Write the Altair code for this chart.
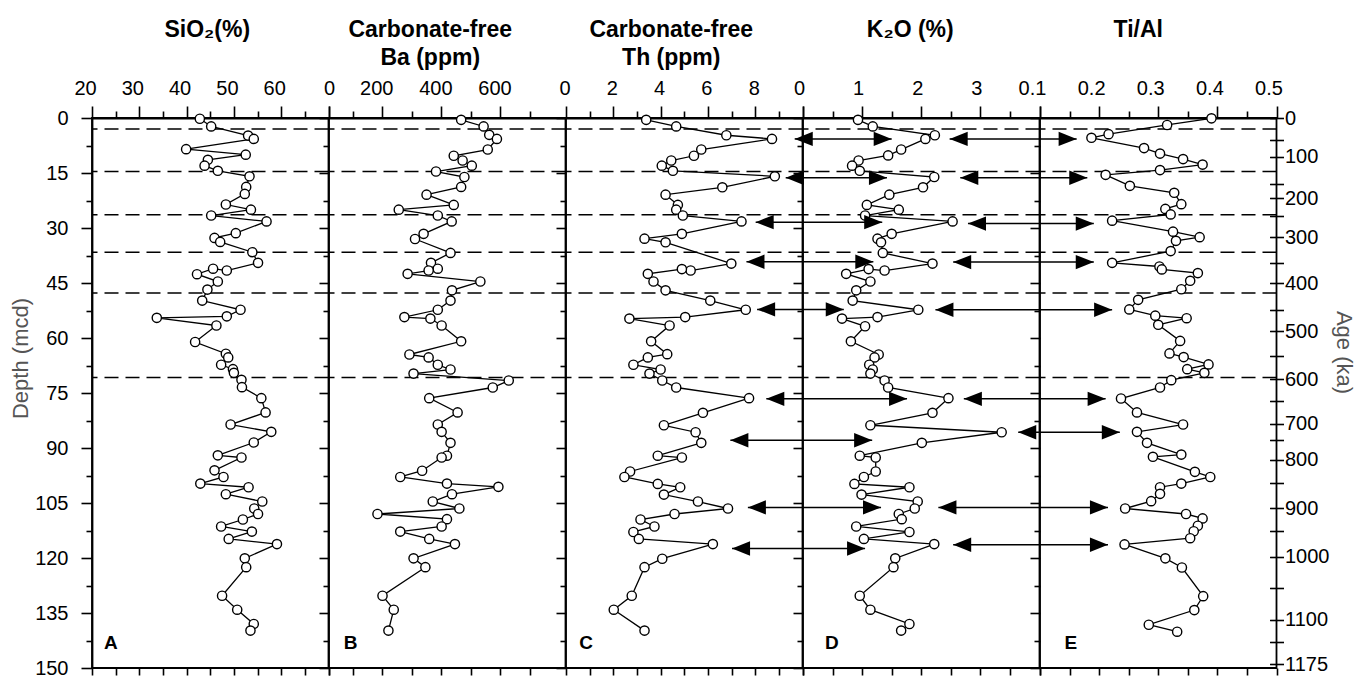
import json
import altair as alt
import pandas as pd

FONT = "Liberation Sans"

# ---------------- data (connection order) ----------------
depth_A = [0.2, 2.3, 4.8, 5.7, 8.5, 10.0, 11.4, 13.0, 14.4, 15.9, 18.8, 20.7, 23.6, 25.0, 26.6, 28.2,
           31.4, 32.7, 33.8, 36.6, 39.5, 41.6, 41.1, 42.6, 44.6, 46.8, 49.8, 52.3, 54.1, 54.5, 56.6,
           61.1, 64.3, 65.3, 67.3, 68.5, 69.5, 71.4, 73.4, 76.4, 80.3, 83.6, 85.6, 88.5, 92.0, 92.6,
           96.1, 97.9, 99.7, 100.7, 102.6, 104.6, 106.5, 108.0, 109.5, 111.4, 112.8, 114.8, 116.2,
           120.1, 122.5, 130.3, 134.1, 138.0, 139.8]
sio2 = [42.8, 45.2, 53.0, 54.2, 39.9, 52.5, 44.5, 43.8, 46.6, 53.3, 52.6, 52.3, 48.3, 53.6, 45.2, 56.9,
        50.4, 45.9, 47.1, 53.9, 55.1, 48.5, 45.6, 42.2, 46.6, 44.4, 43.3, 51.4, 48.5, 33.7, 46.3,
        41.8, 48.3, 48.8, 47.3, 49.8, 50.0, 51.6, 51.7, 55.8, 56.7, 49.3, 57.9, 54.2, 46.6, 51.6,
        45.9, 47.8, 42.9, 53.1, 48.3, 56.0, 54.3, 55.1, 51.9, 47.3, 53.8, 48.9, 59.1,
        52.3, 52.6, 47.5, 50.7, 54.2, 53.5]

depth_B = [0.5, 2.3, 4.6, 5.7, 8.6, 10.3, 11.6, 13.0, 14.6, 16.1, 18.8, 20.9, 23.7, 25.0, 26.6, 28.2,
           31.6, 33.0, 36.8, 39.5, 41.1, 41.6, 42.5, 44.6, 47.0, 49.8, 52.3, 54.3, 54.7, 56.6, 60.9,
           64.5, 65.3, 67.3, 68.6, 69.7, 71.6, 73.5, 76.4, 80.3, 83.6, 85.6, 88.6, 92.1, 92.6, 96.2,
           97.9, 99.7, 100.6, 102.6, 104.6, 106.5, 108.0, 109.4, 111.4, 112.8, 114.8, 116.2, 120.1,
           122.5, 130.3, 134.1, 139.8]
ba = [467, 543, 562, 588, 557, 442, 472, 503, 382, 478, 467, 350, 442, 256, 388, 435,
      340, 311, 431, 365, 388, 357, 286, 532, 436, 431, 388, 275, 363, 401, 467,
      292, 357, 388, 431, 306, 628, 574, 359, 455, 388, 401, 431, 419, 401, 335,
      261, 419, 593, 436, 371, 461, 184, 419, 401, 261, 359, 446, 306,
      346, 201, 239, 221]

depth_C = [0.5, 2.3, 4.7, 5.7, 8.6, 10.3, 11.6, 13.0, 14.4, 15.9, 18.9, 20.9, 23.7, 25.0, 26.6, 28.2,
           31.6, 32.9, 33.9, 39.7, 41.6, 41.2, 42.5, 44.6, 47.0, 49.8, 52.3, 54.3, 54.7, 56.6, 60.9,
           64.4, 65.3, 67.3, 68.6, 69.7, 71.6, 73.5, 76.4, 80.4, 83.8, 85.7, 88.6, 92.1, 92.6, 96.4,
           97.9, 99.8, 100.7, 102.7, 104.6, 106.5, 108.0, 109.5, 111.4, 112.9, 114.8, 116.2, 120.2,
           122.5, 130.3, 134.1, 139.8]
th = [3.39, 4.66, 6.78, 8.71, 5.72, 5.41, 4.45, 4.05, 4.52, 8.83, 6.61, 4.21, 4.73, 4.66, 4.94, 7.42,
      4.90, 3.32, 4.21, 6.99, 5.27, 4.90, 3.46, 3.70, 4.21, 6.10, 7.60, 5.04, 2.68, 4.38, 3.60,
      4.28, 3.46, 2.85, 4.00, 3.53, 4.07, 4.66, 7.74, 5.79, 4.14, 5.48, 5.72, 3.88, 4.90, 2.71,
      2.47, 3.88, 4.83, 4.14, 5.58, 6.85, 4.59, 3.15, 3.74, 2.85, 3.08, 6.21, 4.07,
      3.32, 2.78, 2.02, 3.32]

depth_D = [0.5, 2.3, 4.7, 5.7, 8.6, 10.2, 11.6, 13.0, 14.4, 16.1, 18.9, 20.9, 23.7, 25.0, 26.6, 28.2,
           31.6, 32.9, 33.9, 36.8, 39.7, 41.6, 41.2, 42.5, 44.6, 47.0, 49.8, 52.3, 54.3, 54.7, 56.8,
           60.9, 64.5, 65.3, 67.3, 68.6, 69.7, 71.6, 73.5, 76.4, 80.4, 83.8, 85.7, 88.6, 92.1, 92.6,
           96.4, 97.9, 99.8, 100.7, 102.7, 104.6, 106.5, 108.0, 109.4, 111.4, 112.9, 114.8, 116.2,
           120.1, 122.5, 130.3, 134.1, 138.0, 139.8]
k2o = [0.93, 1.18, 2.23, 2.07, 1.66, 1.44, 0.94, 0.83, 0.96, 2.22, 2.03, 1.46, 1.08, 1.62, 1.05, 2.53,
       1.50, 1.26, 1.32, 1.35, 2.19, 1.38, 1.11, 0.73, 1.14, 0.90, 0.84, 1.95, 1.26, 0.66, 1.05,
       0.81, 1.28, 1.21, 1.12, 1.18, 1.14, 1.38, 1.44, 2.46, 2.19, 1.14, 3.36, 2.01, 0.96, 1.23,
       1.23, 1.03, 0.87, 1.80, 0.99, 1.94, 1.89, 1.62, 1.67, 0.90, 1.80, 1.03, 2.22,
       1.56, 1.53, 0.96, 1.14, 1.80, 1.66]

depth_E = [0.1, 1.9, 4.4, 5.4, 8.2, 9.7, 11.2, 12.7, 14.2, 15.5, 18.5, 20.4, 23.5, 24.8, 26.3, 28.0,
           31.0, 32.5, 33.5, 36.3, 39.5, 40.5, 41.3, 42.3, 44.4, 46.7, 49.6, 52.2, 53.9, 54.6, 56.4,
           60.8, 64.2, 65.2, 67.2, 68.5, 69.5, 71.5, 73.5, 76.5, 80.3, 83.6, 85.6, 88.6, 91.8, 92.4,
           96.5, 97.9, 99.7, 100.7, 102.5, 104.5, 106.5, 108.0, 109.2, 111.2, 112.7, 114.6, 116.3,
           120.1, 122.6, 130.4, 134.2, 138.2, 140.1]
tial = [0.390, 0.315, 0.216, 0.187, 0.276, 0.303, 0.342, 0.375, 0.303, 0.211, 0.252, 0.327, 0.339,
        0.312, 0.321, 0.222, 0.325, 0.370, 0.330, 0.321, 0.222, 0.302, 0.306, 0.367, 0.354, 0.339,
        0.266, 0.251, 0.295, 0.348, 0.300, 0.337, 0.319, 0.343, 0.385, 0.349, 0.378, 0.322, 0.303,
        0.237, 0.264, 0.342, 0.264, 0.281, 0.339, 0.291, 0.362, 0.388, 0.339, 0.303, 0.303, 0.288,
        0.244, 0.347, 0.375, 0.367, 0.360, 0.354, 0.243, 0.312, 0.340, 0.376, 0.361, 0.284, 0.332]

dash_depths = [3.0, 14.6, 26.4, 36.6, 47.7, 70.8]

# arrows: C -> D (left head in C, right head in D) and D -> E
arrow1_depth = [5.7, 16.3, 28.4, 39.2, 52.2, 76.6, 87.9, 106.2, 117.4]
arrow1_th = [9.67, 9.29, 8.02, 7.63, 8.08, 8.47, 6.95, 7.69, 7.02]
arrow1_k2o = [1.50, 1.42, 1.34, 1.19, 0.69, 1.76, 1.17, 1.32, 1.05]
arrow2_depth = [5.7, 16.3, 28.8, 39.3, 52.3, 76.6, 85.7, 106.2, 116.4]
arrow2_k2o = [2.48, 2.66, 2.79, 2.54, 2.24, 2.72, 3.64, 2.29, 2.54]
arrow2_tial = [0.162, 0.180, 0.191, 0.191, 0.222, 0.211, 0.235, 0.215, 0.215]

# age axis (right): age values and the depth where each tick sits
age_ticks = [0, 50, 100, 150, 200, 250, 300, 350, 400, 450, 500, 550, 600, 650, 700, 750, 800,
             850, 900, 950, 1000, 1050, 1100, 1150, 1175]
age_tick_depth = [0.0, 5.9, 10.6, 17.9, 21.9, 26.8, 32.5, 39.5, 45.1, 52.3, 58.2, 64.9, 71.3, 77.3,
                  83.4, 87.9, 93.2, 99.5, 106.4, 112.6, 119.7, 128.1, 136.8, 142.9, 149.0]

# ---------------- layout ----------------
PW = 236.5
PH = 550
Y_SCALE = alt.Scale(domain=[0, 150], reverse=True, nice=False, zero=False)
dash_df = pd.DataFrame({"depth": dash_depths})
left_vals = [i * 7.5 for i in range(21)]
LEFT_HEAD = "M0,0L1,-0.4L1,0.4Z"
RIGHT_HEAD = "M0,0L-1,-0.4L-1,0.4Z"


def top_axis(values, major, label_expr, fmt, loff):
    return alt.Axis(orient="top", values=values, title=None, format=fmt,
                    tickSize={"condition": {"test": major, "value": 12}, "value": 7},
                    labelExpr=label_expr, labelOffset=loff, labelPadding=8)


def bottom_axis(values):
    return alt.Axis(orient="bottom", values=values, title=None, labels=False,
                    tickSize=7, domain=False)


def inner_left_axis():
    return alt.Axis(orient="left", values=left_vals, title=None, labels=False, domain=False,
                    tickSize={"condition": {"test": "datum.value % 15 == 0", "value": 10}, "value": 6})


def arrow_layers(df, xs, shape):
    shaft = alt.Chart(df).mark_rule(color="black", strokeWidth=1.5).encode(
        x=alt.X("tip:Q", scale=xs, axis=None), x2=alt.X2("end:Q"),
        y=alt.Y("depth:Q", scale=Y_SCALE, axis=None))
    head = alt.Chart(df).mark_point(shape=shape, filled=True, color="black", opacity=1,
                                    size=1300, strokeWidth=0).encode(
        x=alt.X("tip:Q", scale=xs, axis=None),
        y=alt.Y("depth:Q", scale=Y_SCALE, axis=None))
    return [shaft, head]


def panel(depths, vals, domain, t_axis, tick_vals, l_axis, letter, letter_x, title,
          tdx, tdy, arrows=(), r_axis=None):
    xs = alt.Scale(domain=domain, nice=False, zero=False)
    df = pd.DataFrame({"depth": depths, "v": vals, "i": list(range(len(vals)))})
    dash = alt.Chart(dash_df).mark_rule(color="black", strokeWidth=1.5,
                                        strokeDash=[14, 7]).encode(
        y=alt.Y("depth:Q", scale=Y_SCALE, axis=None))
    line = alt.Chart(df).mark_line(color="black", strokeWidth=1.3).encode(
        x=alt.X("v:Q", scale=xs, axis=t_axis),
        y=alt.Y("depth:Q", scale=Y_SCALE, axis=l_axis),
        order=alt.Order("i:Q"))
    pts = alt.Chart(df).mark_point(shape="circle", filled=True, fill="white", stroke="black",
                                   strokeWidth=1.4, size=85, opacity=1).encode(
        x=alt.X("v:Q", scale=xs, axis=None),
        y=alt.Y("depth:Q", scale=Y_SCALE, axis=None))
    arr = []
    for a_df, shape in arrows:
        arr += arrow_layers(a_df, xs, shape)
    lab = alt.Chart(pd.DataFrame({"letter": [letter]})).mark_text(
        font=FONT, fontSize=19, fontWeight="bold", color="black", align="center",
        baseline="middle").encode(
        x=alt.X(datum=letter_x, type="quantitative", scale=xs, axis=bottom_axis(tick_vals)),
        y=alt.Y(datum=143.2, type="quantitative", scale=Y_SCALE, axis=r_axis),
        text=alt.Text("letter:N"))
    layers = [dash, line, pts] + arr + [lab]
    tp = dict(text=title, anchor="middle", font=FONT, fontSize=23, fontWeight="bold",
              color="black", offset=8, dx=tdx, lineHeight=28)
    if tdy:
        tp["dy"] = tdy
    return alt.layer(*layers).properties(width=PW, height=PH, title=alt.TitleParams(**tp)
                                         ).resolve_axis(x="independent", y="independent")


# axes
valsA = list(range(20, 71, 5))
axA = top_axis(valsA, "datum.value % 10 == 0",
               "datum.value % 10 == 0 && datum.value < 70 ? datum.label : ''", ".0f", -7)
valsB = [20, 100, 200, 300, 400, 500, 600, 700]
axB = alt.Axis(orient="top", values=valsB, title=None, format=".0f",
               tickSize={"condition": {"test": "datum.value == 20 || datum.value % 200 == 0",
                                       "value": 12}, "value": 7},
               labelExpr="datum.value == 20 ? '0' : (datum.value % 200 == 0 ? datum.label : '')",
               labelOffset={"condition": {"test": "datum.value == 20", "value": 0}, "value": -6},
               labelPadding=8)
valsC = list(range(0, 11))
axC = top_axis(valsC, "datum.value % 2 == 0",
               "datum.value % 2 == 0 && datum.value < 10 ? datum.label : ''", ".0f", -1.5)
valsD = [i * 0.5 for i in range(9)]
axD = top_axis(valsD, "datum.value % 1 == 0",
               "datum.value % 1 == 0 && datum.value < 4 ? datum.label : ''", ".0f", -4)
valsE = [round(0.1 + 0.05 * i, 2) for i in range(9)]
majE = "abs(datum.value * 10 - round(datum.value * 10)) < 0.001"
axE = top_axis(valsE, majE, f"{majE} ? datum.label : ''", ".1f", -8)

depth_axis = alt.Axis(orient="left", values=left_vals, title="Depth (mcd)", format=".0f",
                      tickSize={"condition": {"test": "datum.value % 15 == 0", "value": 11},
                                "value": 6},
                      labelExpr="datum.value % 15 == 0 ? datum.label : ''",
                      labelPadding=13, titlePadding=2, titleY=240)

age_labels = [str(a) if a % 100 == 0 or a == 1175 else "" for a in age_ticks]
age_axis = alt.Axis(orient="right", values=age_tick_depth, title="Age (ka)",
                    labelExpr=f"{json.dumps(age_labels)}[indexof({json.dumps(age_tick_depth)}, datum.value)]",
                    tickSize=14, offset=-7, domain=False, labelPadding=1, titlePadding=3,
                    titleY=234)

n1 = len(arrow1_depth)
n2 = len(arrow2_depth)
arrC = pd.DataFrame({"depth": arrow1_depth, "tip": arrow1_th, "end": [10] * n1})
arrD1 = pd.DataFrame({"depth": arrow1_depth, "tip": arrow1_k2o, "end": [0] * n1})
arrD2 = pd.DataFrame({"depth": arrow2_depth, "tip": arrow2_k2o, "end": [4] * n2})
arrE = pd.DataFrame({"depth": arrow2_depth, "tip": arrow2_tial, "end": [0.1] * n2})

pA = panel(depth_A, sio2, [20, 70], axA, valsA, depth_axis, "A", 24.0, "SiO₂(%)", -3, -28)
pB = panel(depth_B, ba, [20, 820], axB, valsB, inner_left_axis(), "B", 93.0,
           ["Carbonate-free", "Ba (ppm)"], -17, 0)
pC = panel(depth_C, th, [0, 10], axC, valsC, inner_left_axis(), "C", 0.85,
           ["Carbonate-free", "Th (ppm)"], -13, 0, arrows=[(arrC, LEFT_HEAD)])
pD = panel(depth_D, k2o, [0, 4], axD, valsD, inner_left_axis(), "D", 0.49, "K₂O (%)", -11, -28,
           arrows=[(arrD1, RIGHT_HEAD), (arrD2, LEFT_HEAD)])
pE = panel(depth_E, tial, [0.1, 0.5], axE, valsE, inner_left_axis(), "E", 0.152, "Ti/Al", -20, -28,
           arrows=[(arrE, RIGHT_HEAD)], r_axis=age_axis)

chart = alt.hconcat(pA, pB, pC, pD, pE, spacing=0, bounds="flush").properties(
    padding={"left": 8, "top": 18, "right": 0, "bottom": 0}
).configure_view(stroke="black", strokeWidth=1.8).configure_axis(
    labelFont=FONT, labelFontSize=20, labelColor="black", tickColor="black", tickWidth=1.6,
    domainColor="black", domainWidth=1.8, titleFont=FONT, titleFontSize=22,
    titleFontWeight="normal", titleColor="#555555", labelFlush=False, labelOverlap=False,
    grid=False
)

chart.save("out.html", embed_options={"renderer": "svg", "actions": False})
